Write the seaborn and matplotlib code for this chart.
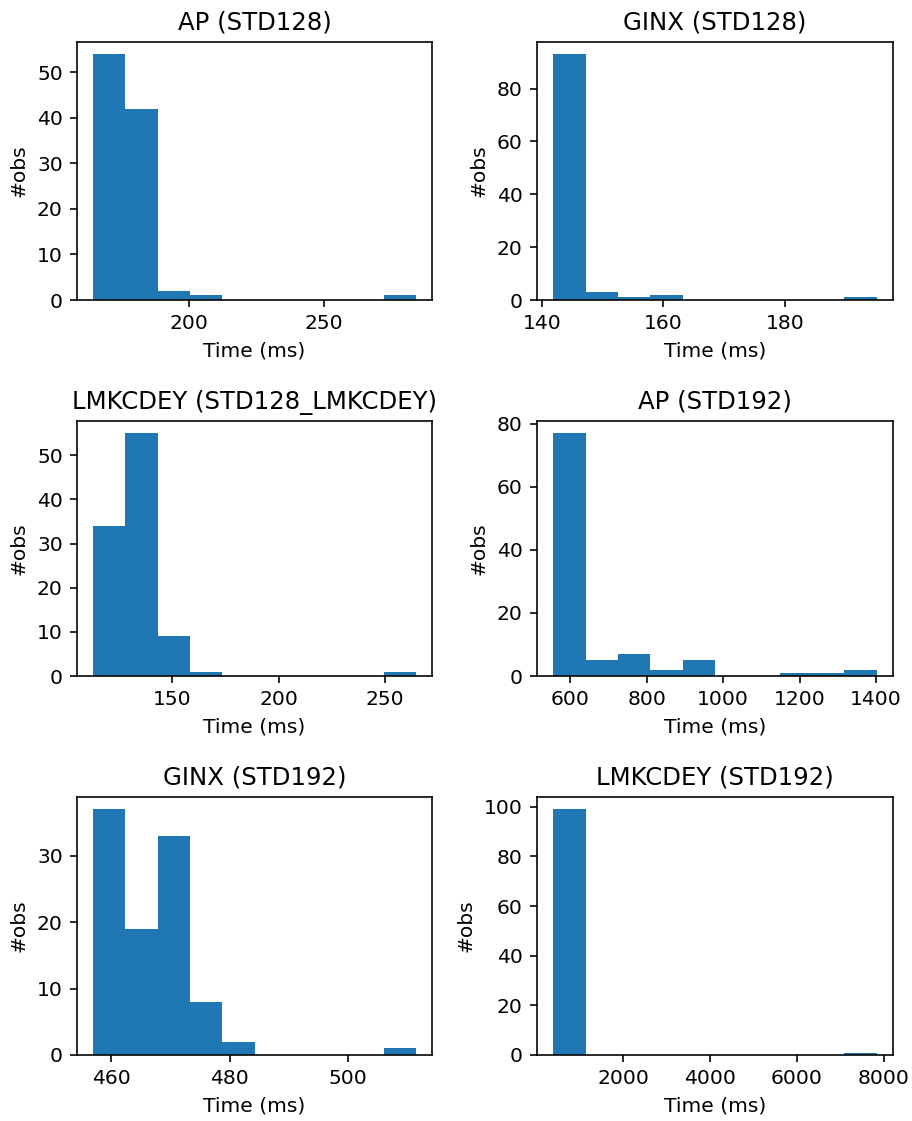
import numpy as np
import pandas as pd
import matplotlib
matplotlib.use("Agg")
import matplotlib.pyplot as plt
import seaborn as sns

titles = ["AP (STD128)", "GINX (STD128)", "LMKCDEY (STD128_LMKCDEY)",
          "AP (STD192)", "GINX (STD192)", "LMKCDEY (STD192)"]

# histogram range (min, max of observations) and counts of the 10 bins
ap128_range = [164.2, 284.3]
ap128_counts = [54, 42, 2, 1, 0, 0, 0, 0, 0, 1]

ginx128_range = [141.8, 195.2]
ginx128_counts = [93, 3, 1, 2, 0, 0, 0, 0, 0, 1]

lmk128_range = [112.7, 264.6]
lmk128_counts = [34, 55, 9, 1, 0, 0, 0, 0, 0, 1]

ap192_range = [555.6, 1402.0]
ap192_counts = [77, 5, 7, 2, 5, 0, 0, 1, 1, 2]

ginx192_range = [456.9, 511.5]
ginx192_counts = [37, 19, 33, 8, 2, 0, 0, 0, 0, 1]

lmk192_range = [391.0, 7839.0]
lmk192_counts = [99, 0, 0, 0, 0, 0, 0, 0, 0, 1]

ranges = [ap128_range, ginx128_range, lmk128_range, ap192_range, ginx192_range, lmk192_range]
counts = [ap128_counts, ginx128_counts, lmk128_counts, ap192_counts, ginx192_counts, lmk192_counts]

DPI = 146
W, H = 912, 1121
fig = plt.figure(figsize=(W / DPI, H / DPI), dpi=DPI)

lefts = [77, 537]
widths = [355, 356]
rows = [(42, 300), (421, 676), (797, 1055)]

for i in range(6):
    r, c = divmod(i, 2)
    top, bot = rows[r]
    ax = fig.add_axes([lefts[c] / W, 1 - bot / H, widths[c] / W, (bot - top) / H])
    lo, hi = ranges[i]
    edges = np.linspace(lo, hi, 11)
    centers = (edges[:-1] + edges[1:]) / 2
    df = pd.DataFrame({"time": centers, "n": np.asarray(counts[i], dtype=float)})
    sns.histplot(data=df, x="time", weights="n", bins=10, binrange=(lo, hi), ax=ax,
                 color="#1f77b4", alpha=1, linewidth=0)
    ax.set_title(titles[i], fontsize=12)
    ax.set_xlabel("Time (ms)")
    ax.set_ylabel("#obs")

fig.savefig("out.png", dpi=DPI)
